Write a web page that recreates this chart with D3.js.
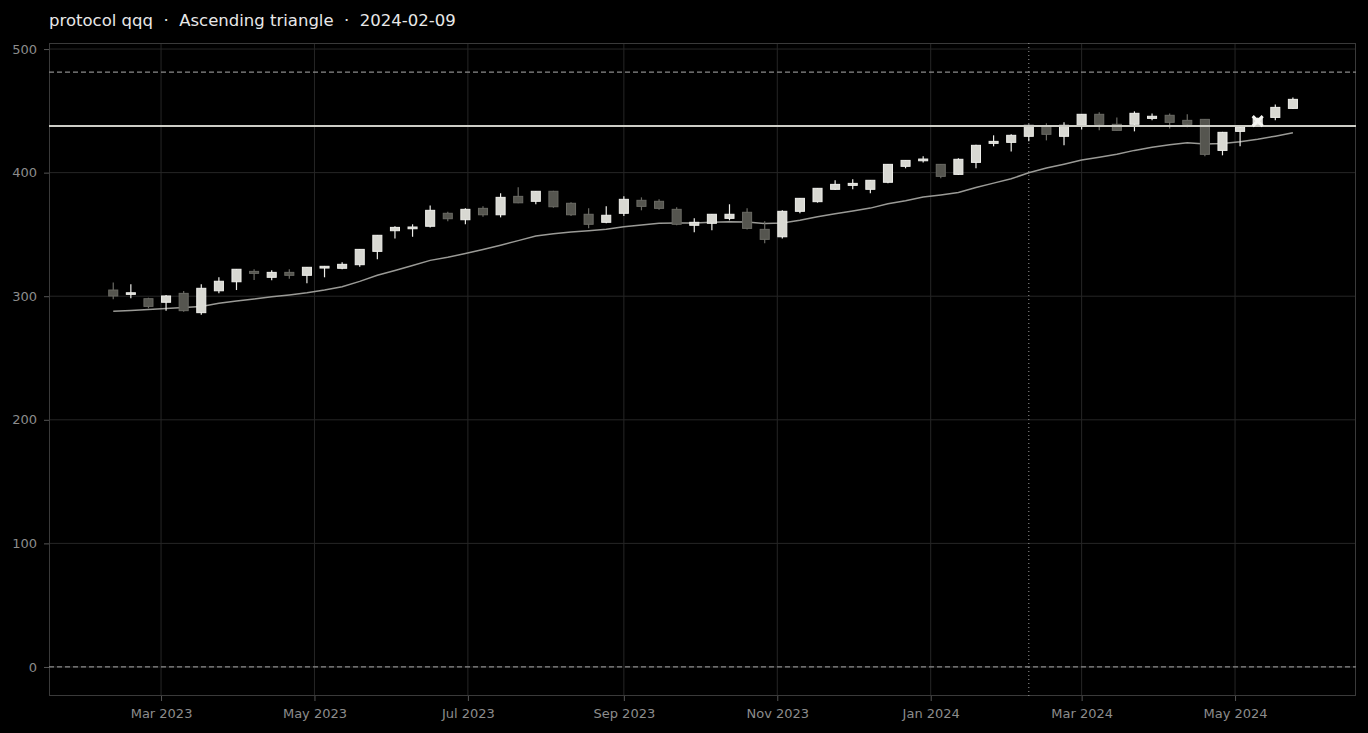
<!DOCTYPE html>
<html>
<head>
<meta charset="utf-8">
<script src="https://cdn.jsdelivr.net/npm/d3@7"></script>
<style>
    html, body { margin: 0; padding: 0; background: #000; }
    svg { display: block; font-family: "DejaVu Sans", sans-serif; }
    .tick text { fill: #8c8c8c; font-size: 13px; }
</style>
</head>
<body>
<div id="chart-container"></div>
<script>
// --- 1. Data (weekly candles) ---
const dates = [
    "2023-02-10","2023-02-17","2023-02-24","2023-03-03","2023-03-10","2023-03-17","2023-03-24","2023-03-31",
    "2023-04-07","2023-04-14","2023-04-21","2023-04-28","2023-05-05","2023-05-12","2023-05-19","2023-05-26",
    "2023-06-02","2023-06-09","2023-06-16","2023-06-23","2023-06-30","2023-07-07","2023-07-14","2023-07-21",
    "2023-07-28","2023-08-04","2023-08-11","2023-08-18","2023-08-25","2023-09-01","2023-09-08","2023-09-15",
    "2023-09-22","2023-09-29","2023-10-06","2023-10-13","2023-10-20","2023-10-27","2023-11-03","2023-11-10",
    "2023-11-17","2023-11-24","2023-12-01","2023-12-08","2023-12-15","2023-12-22","2023-12-29","2024-01-05",
    "2024-01-12","2024-01-19","2024-01-26","2024-02-02","2024-02-09","2024-02-16","2024-02-23","2024-03-01",
    "2024-03-08","2024-03-15","2024-03-22","2024-03-29","2024-04-05","2024-04-12","2024-04-19","2024-04-26",
    "2024-05-03","2024-05-10","2024-05-17","2024-05-24"
];
const opens = [
    305.0, 301.5, 298.0, 295.1, 302.3, 286.7, 304.4, 311.7, 320.1, 315.3, 319.3, 316.9, 322.8, 322.6, 325.5, 336.3,
    353.0, 354.6, 356.6, 367.1, 361.9, 371.1, 365.9, 380.8, 376.8, 384.9, 375.2, 366.3, 359.8, 367.1, 377.6, 376.8,
    370.3, 357.4, 359.0, 363.0, 367.9, 354.1, 348.1, 368.7, 376.5, 386.5, 389.7, 386.5, 392.2, 405.1, 409.6, 406.7,
    398.6, 408.3, 423.7, 424.5, 429.4, 437.9, 429.4, 438.3, 447.2, 439.1, 439.1, 443.9, 446.4, 442.3, 443.1, 418.0,
    433.4, 438.3, 444.7, 452.0
];
const highs = [
    311.2, 309.6, 298.8, 301.0, 304.2, 309.6, 315.3, 322.0, 321.8, 321.0, 321.8, 323.6, 324.5, 327.4, 338.2, 349.6,
    356.6, 358.2, 373.5, 368.4, 371.1, 372.7, 383.3, 388.1, 385.2, 385.3, 376.0, 371.1, 372.7, 380.8, 380.0, 378.4,
    371.9, 363.0, 366.5, 374.4, 371.1, 360.6, 369.5, 379.5, 387.5, 393.8, 394.6, 394.0, 407.0, 410.2, 413.2, 407.0,
    411.6, 422.5, 430.2, 431.0, 439.0, 439.9, 440.7, 447.5, 448.8, 444.7, 449.6, 447.9, 447.9, 447.2, 443.5, 433.0,
    437.0, 444.5, 455.2, 460.9
];
const lows = [
    297.5, 298.3, 290.2, 288.3, 287.5, 285.0, 302.3, 305.0, 313.1, 312.9, 314.2, 310.4, 315.3, 321.8, 323.9, 329.9,
    346.8, 348.1, 355.7, 360.6, 358.2, 364.3, 363.8, 375.3, 374.4, 371.6, 365.0, 354.9, 359.0, 364.9, 369.5, 370.0,
    357.5, 351.7, 353.3, 361.4, 354.0, 342.8, 346.8, 367.1, 375.7, 386.0, 386.5, 383.3, 391.5, 403.5, 408.3, 395.4,
    398.0, 403.5, 421.3, 417.2, 425.3, 426.1, 422.1, 435.0, 434.2, 434.0, 433.4, 442.3, 435.8, 436.7, 413.2, 414.0,
    421.3, 437.5, 442.3, 451.5
];
const closes = [
    300.2, 302.8, 291.8, 300.2, 288.3, 306.4, 312.1, 321.8, 318.5, 319.3, 316.9, 323.4, 324.2, 325.8, 337.9, 349.3,
    355.7, 356.0, 369.5, 362.7, 370.3, 365.9, 380.0, 375.6, 384.9, 372.4, 365.9, 358.2, 365.5, 378.4, 372.7, 371.1,
    358.2, 359.8, 366.3, 366.3, 354.9, 346.0, 368.7, 379.2, 387.3, 390.5, 391.3, 393.8, 406.7, 409.9, 411.0, 397.0,
    410.8, 422.1, 425.3, 430.2, 438.3, 431.0, 438.3, 447.2, 439.1, 434.2, 448.0, 445.6, 440.7, 439.1, 414.8, 432.6,
    436.7, 443.9, 452.8, 459.3
];
// moving average line
const maValues = [
    287.8, 288.5, 289.3, 290.0, 290.8, 291.6, 294.3, 296.2, 297.8, 299.5, 301.0, 302.8, 305.0, 307.6, 312.0, 317.0,
    320.8, 324.8, 329.0, 331.5, 334.5, 337.8, 341.3, 345.0, 348.7, 350.5, 352.0, 353.0, 354.2, 356.2, 357.7, 359.0,
    359.2, 359.2, 359.8, 360.3, 360.0, 358.8, 359.3, 361.5, 364.3, 366.8, 369.0, 371.3, 374.8, 377.3, 380.2, 382.0,
    384.0, 388.0, 391.5, 395.0, 399.9, 403.7, 406.8, 410.2, 412.5, 414.9, 418.0, 420.5, 422.5, 424.2, 423.2, 423.5,
    425.0, 427.0, 429.5, 432.3
];
// pattern levels
const resistance = 437.7;
const guideLevels = [481.4, 0];
const signalDate = "2024-02-09";
const breakout = { date: "2024-05-10", value: 441.7 };

const titleText = "protocol qqq  \u00b7  Ascending triangle  \u00b7  2024-02-09";
const yTicks = [0, 100, 200, 300, 400, 500];
const xTicks = ["2023-03-01","2023-05-01","2023-07-01","2023-09-01","2023-11-01","2024-01-01","2024-03-01","2024-05-01"];

// --- 2. Build rows ---
const parse = d3.utcParse("%Y-%m-%d");
const candles = dates.map((d, i) => ({
    date: parse(d), open: opens[i], high: highs[i], low: lows[i], close: closes[i], ma: maValues[i]
}));

// --- 3. Setup ---
const width = 1368, height = 733;
const margin = { top: 43, right: 12, bottom: 37, left: 49 };

const svg = d3.select("#chart-container").append("svg")
    .attr("width", width)
    .attr("height", height);

svg.append("rect").attr("width", width).attr("height", height).attr("fill", "#000");

const xScale = d3.scaleUtc()
    .domain([new Date(Date.UTC(2023, 0, 15, 11, 0)), new Date(Date.UTC(2024, 5, 18, 2, 0))])
    .range([margin.left, width - margin.right]);

const yScale = d3.scaleLinear()
    .domain([-23.5, 504.9])
    .range([height - margin.bottom, margin.top]);

const dayPx = xScale(new Date(Date.UTC(2023, 2, 2))) - xScale(new Date(Date.UTC(2023, 2, 1)));
const bodyW = dayPx * 3.6;

// --- 4. Grid ---
const grid = svg.append("g").attr("stroke", "#262626").attr("stroke-width", 1);
grid.selectAll(".gx").data(xTicks).join("line")
    .attr("x1", d => xScale(parse(d))).attr("x2", d => xScale(parse(d)))
    .attr("y1", margin.top).attr("y2", height - margin.bottom);
grid.selectAll(".gy").data(yTicks).join("line")
    .attr("x1", margin.left).attr("x2", width - margin.right)
    .attr("y1", d => yScale(d)).attr("y2", d => yScale(d));

// --- 5. Axes ---
const xAxis = d3.axisBottom(xScale)
    .tickValues(xTicks.map(parse))
    .tickFormat(d3.utcFormat("%b %Y"))
    .tickSize(5).tickPadding(8).tickSizeOuter(0);
const gx = svg.append("g")
    .attr("transform", `translate(0, ${height - margin.bottom})`)
    .call(xAxis);
gx.select(".domain").remove();
gx.selectAll(".tick line").attr("stroke", "#555");

const yAxis = d3.axisLeft(yScale).tickValues(yTicks).tickSize(5).tickPadding(7).tickSizeOuter(0);
const gy = svg.append("g")
    .attr("transform", `translate(${margin.left}, 0)`)
    .call(yAxis);
gy.select(".domain").remove();
gy.selectAll(".tick line").attr("stroke", "#555");

svg.selectAll(".tick text").attr("font-family", "DejaVu Sans, sans-serif");

// frame
svg.append("rect")
    .attr("x", margin.left + 0.5).attr("y", margin.top + 0.5)
    .attr("width", width - margin.left - margin.right - 1)
    .attr("height", height - margin.top - margin.bottom - 1)
    .attr("fill", "none").attr("stroke", "#3a3a3a");

// --- 6. Guide lines ---
svg.selectAll(".guide").data(guideLevels).join("line")
    .attr("x1", margin.left).attr("x2", width - margin.right)
    .attr("y1", d => yScale(d)).attr("y2", d => yScale(d))
    .attr("stroke", "#8a8a8a").attr("stroke-width", 1.2)
    .attr("stroke-dasharray", "5,3");

svg.append("line")
    .attr("x1", xScale(parse(signalDate))).attr("x2", xScale(parse(signalDate)))
    .attr("y1", margin.top).attr("y2", height - margin.bottom)
    .attr("stroke", "#9a9a9a").attr("stroke-width", 1)
    .attr("stroke-dasharray", "1,3");

// --- 7. Moving average ---
const line = d3.line()
    .x(d => xScale(d.date))
    .y(d => yScale(d.ma));
svg.append("path")
    .datum(candles)
    .attr("d", line)
    .attr("fill", "none")
    .attr("stroke", "#9a9a96")
    .attr("stroke-width", 1.5);

// --- 8. Candles ---
const cg = svg.selectAll(".candle").data(candles).join("g").attr("class", "candle");
cg.append("line")
    .attr("x1", d => xScale(d.date)).attr("x2", d => xScale(d.date))
    .attr("y1", d => yScale(d.high)).attr("y2", d => yScale(d.low))
    .attr("stroke", d => d.close >= d.open ? "#ecece8" : "#6a6a64")
    .attr("stroke-width", 1.2);
cg.append("rect")
    .attr("x", d => xScale(d.date) - bodyW / 2)
    .attr("width", bodyW)
    .attr("y", d => yScale(Math.max(d.open, d.close)))
    .attr("height", d => Math.max(1, Math.abs(yScale(d.open) - yScale(d.close))))
    .attr("fill", d => d.close >= d.open ? "#d8d8d2" : "#55554f")
    .attr("stroke", d => d.close >= d.open ? "#f0f0ec" : "#6a6a64")
    .attr("stroke-width", 1);

// --- 9. Resistance ---
svg.append("line")
    .attr("x1", margin.left).attr("x2", width - margin.right)
    .attr("y1", yScale(resistance)).attr("y2", yScale(resistance))
    .attr("stroke", "#cdcdc6").attr("stroke-width", 2);

// --- 10. Breakout marker ---
const bx = xScale(parse(breakout.date)), by = yScale(breakout.value), s = 5;
svg.append("path")
    .attr("d", `M${bx - s},${by - s}L${bx + s},${by + s}M${bx - s},${by + s}L${bx + s},${by - s}`)
    .attr("stroke", "#f4f4f0").attr("stroke-width", 3).attr("fill", "none");

// --- 11. Title ---
svg.append("text")
    .attr("x", margin.left).attr("y", 26)
    .attr("fill", "#e8e8e8")
    .attr("font-size", 16.5)
    .attr("xml:space", "preserve")
    .style("white-space", "pre")
    .text(titleText);
</script>
</body>
</html>
